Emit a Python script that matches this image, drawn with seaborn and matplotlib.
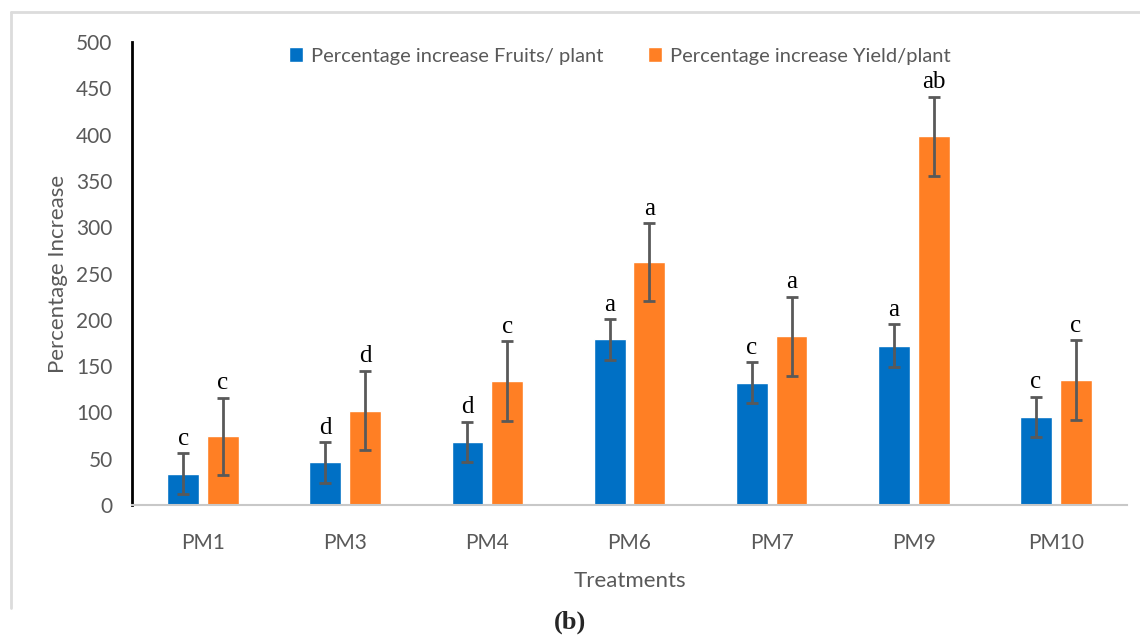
import pandas as pd
import matplotlib
matplotlib.use("Agg")
import matplotlib.pyplot as plt
from matplotlib.lines import Line2D
import seaborn as sns

# valores
treatments = ["PM1", "PM3", "PM4", "PM6", "PM7", "PM9", "PM10"]
fruits = [34, 46, 68, 179, 132, 172, 95]
fruits_err = [22, 22, 22, 22, 22, 23, 22]
yield_ = [74, 102, 134, 262, 182, 398, 135]
yield_err = [42, 43, 43, 42, 43, 43, 43]
fruits_letters = ["c", "d", "d", "a", "c", "a", "c"]
yield_letters = ["c", "d", "c", "a", "a", "ab", "c"]
series = ["Percentage increase Fruits/ plant", "Percentage increase Yield/plant"]

df = pd.DataFrame({
    "Treatments": treatments * 2,
    "value": fruits + yield_,
    "serie": [series[0]] * len(treatments) + [series[1]] * len(treatments),
})

sns.set_style("white")
plt.rcParams["font.family"] = ["Lato", "DejaVu Sans"]

fig = plt.figure(figsize=(11.4, 6.39), dpi=100)
ax = fig.add_axes([132 / 1140, 1 - 505 / 639, (1127 - 132) / 1140, (505 - 42) / 639])

sns.barplot(data=df, x="Treatments", y="value", hue="serie",
            palette=["#0070C5", "#FF7F24"], width=0.56, gap=0.2,
            saturation=1, errorbar=None, ax=ax)

# barras de erro e letras
for cont, vals, errs, letters in zip(ax.containers, [fruits, yield_],
                                     [fruits_err, yield_err],
                                     [fruits_letters, yield_letters]):
    xs = [b.get_x() + b.get_width() / 2 for b in cont]
    ax.errorbar(xs, vals, yerr=errs, fmt="none", ecolor="#595959",
                elinewidth=2, capsize=4, capthick=2, zorder=3)
    for x, v, e, t in zip(xs, vals, errs, letters):
        ax.annotate(t, (x, v + e), xytext=(0, 6), textcoords="offset points",
                    ha="center", va="baseline", fontsize=18,
                    family="Liberation Serif", color="black")

ax.set_ylim(0, 500)
ax.set_xlim(-0.5, 6.5)
ax.set_yticks(range(0, 501, 50))
ax.tick_params(axis="both", length=0, labelsize=15, labelcolor="#595959")
ax.tick_params(axis="y", pad=14)
ax.tick_params(axis="x", pad=20)

ax.set_ylabel("Percentage Increase", fontsize=16, color="#595959", labelpad=6)
ax.set_xlabel("Treatments", fontsize=16, color="#595959", labelpad=13)

for s in ["top", "right"]:
    ax.spines[s].set_visible(False)
ax.spines["left"].set_color("black")
ax.spines["left"].set_linewidth(2)
ax.spines["bottom"].set_color("#C8C8C8")
ax.spines["bottom"].set_linewidth(1.5)

leg = ax.legend(loc="upper center", bbox_to_anchor=(0.49, 1.01), ncol=2,
                frameon=False, fontsize=14.5, handlelength=0.7, handleheight=0.7,
                handletextpad=0.4, columnspacing=2.2, borderaxespad=0.1)
for t in leg.get_texts():
    t.set_color("#595959")

# moldura da figura e legenda (b)
fig.add_artist(Line2D([11 / 1140, 11 / 1140], [1 - 12 / 639, 1 - 608 / 639],
                      transform=fig.transFigure, color="#DCDCDC", lw=2))
fig.add_artist(Line2D([11 / 1140, 1.0], [1 - 12 / 639, 1 - 12 / 639],
                      transform=fig.transFigure, color="#DCDCDC", lw=2))
fig.text(570 / 1140, 1 - 622 / 639, "(b)", ha="center", va="center",
         fontsize=19, fontweight="bold", family="Liberation Serif")

fig.savefig("out.png", dpi=100)
